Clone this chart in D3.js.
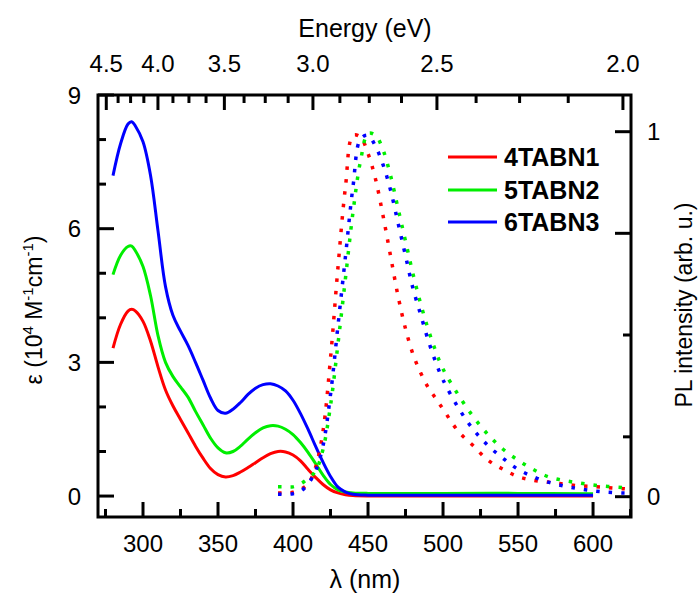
<!DOCTYPE html>
<html>
<head>
<meta charset="utf-8">
<script src="https://cdn.jsdelivr.net/npm/d3@7"></script>
<style>
  body { margin: 0; background: #fff; }
  text { font-family: "Liberation Sans", Arial, sans-serif; fill: #000; }
</style>
</head>
<body>
<svg id="chart" width="699" height="597"></svg>
<script>
// absorption, epsilon in 10^4 M-1 cm-1
var absLambda = [280, 285, 290, 292.5, 295, 300, 305, 310, 315, 320, 325, 330, 335, 340, 345, 350, 355, 360, 365, 370, 375, 380, 385, 390, 395, 400, 405, 410, 415, 420, 425, 430, 435, 440, 450, 470, 500, 550, 600];
var absRed   = [3.32, 3.85, 4.15, 4.19, 4.15, 3.92, 3.48, 2.9, 2.38, 2.02, 1.72, 1.42, 1.12, 0.85, 0.62, 0.48, 0.43, 0.46, 0.54, 0.64, 0.75, 0.86, 0.95, 1.0, 0.99, 0.92, 0.79, 0.6, 0.42, 0.26, 0.14, 0.07, 0.03, 0.01, 0.0, 0.0, 0.0, 0.0, 0.0];
var absGreen = [4.97, 5.4, 5.6, 5.61, 5.5, 5.15, 4.5, 3.6, 3.0, 2.68, 2.45, 2.22, 1.9, 1.6, 1.3, 1.08, 0.97, 1.0, 1.12, 1.28, 1.42, 1.53, 1.58, 1.57, 1.5, 1.38, 1.2, 0.98, 0.73, 0.47, 0.26, 0.14, 0.09, 0.07, 0.06, 0.06, 0.06, 0.06, 0.05];
var absBlue  = [7.19, 7.9, 8.35, 8.4, 8.3, 7.95, 7.2, 5.95, 4.7, 4.05, 3.7, 3.38, 3.0, 2.6, 2.2, 1.92, 1.86, 1.95, 2.1, 2.28, 2.42, 2.5, 2.52, 2.47, 2.36, 2.15, 1.85, 1.5, 1.12, 0.76, 0.44, 0.2, 0.09, 0.04, 0.02, 0.02, 0.02, 0.02, 0.02];

// photoluminescence, normalised
var plLambda = [390, 395, 400, 405, 410, 415, 420, 425, 430, 435, 440, 445, 450, 455, 460, 465, 470, 475, 480, 485, 490, 495, 500, 510, 520, 530, 540, 550, 560, 570, 580, 590, 600, 610, 620, 625];
var plRed   = [0.01, 0.01, 0.012, 0.02, 0.035, 0.08, 0.18, 0.38, 0.63, 0.85, 0.99, 0.985, 0.94, 0.87, 0.77, 0.66, 0.55, 0.46, 0.39, 0.34, 0.3, 0.27, 0.24, 0.18, 0.14, 0.1, 0.075, 0.055, 0.045, 0.04, 0.035, 0.03, 0.028, 0.025, 0.022, 0.02];
var plGreen = [0.027, 0.027, 0.027, 0.035, 0.05, 0.07, 0.13, 0.25, 0.42, 0.6, 0.78, 0.92, 0.995, 0.99, 0.95, 0.88, 0.79, 0.7, 0.61, 0.53, 0.46, 0.4, 0.35, 0.28, 0.22, 0.17, 0.13, 0.1, 0.075, 0.055, 0.045, 0.038, 0.032, 0.028, 0.025, 0.024];
var plBlue  = [0.007, 0.007, 0.008, 0.015, 0.035, 0.07, 0.14, 0.28, 0.47, 0.66, 0.85, 0.98, 0.99, 0.96, 0.91, 0.84, 0.75, 0.66, 0.57, 0.5, 0.43, 0.37, 0.32, 0.245, 0.185, 0.14, 0.105, 0.075, 0.055, 0.04, 0.03, 0.022, 0.016, 0.012, 0.01, 0.01];

var names = ['4TABN1', '5TABN2', '6TABN3'];
var colors = ['#ff0000', '#00ee00', '#0000ff'];

var lambdaMajor = [300, 350, 400, 450, 500, 550, 600];
var lambdaMinor = [275, 325, 375, 425, 475, 525, 575, 625];
var energyMajor = [4.5, 4.0, 3.5, 3.0, 2.5, 2.0];
var energyMinor = [4.375, 4.25, 4.125, 3.875, 3.75, 3.625, 3.375, 3.25, 3.125, 2.875, 2.75, 2.625, 2.375, 2.25, 2.125];
var epsMajor = [0, 3, 6, 9];
var epsMinor = [1, 2, 4, 5, 7, 8];
var plMajor = [0, 1, 0.7216];
var plMinor = [0.443, 0.164];

var svg = d3.select('#chart');
var L = 98, R = 631, T = 95, B = 517;

var x = d3.scaleLinear().domain([270, 625.3]).range([L, R]);
var y = d3.scaleLinear().domain([-0.47, 9]).range([B, T]);
var y2 = d3.scaleLinear().domain([0, 1]).range([496.7, 131.7]);

var line = d3.line().curve(d3.curveCatmullRom.alpha(0.5));

var absSets = [absRed, absGreen, absBlue];
var plSets = [plRed, plGreen, plBlue];

var g = svg.append('g');

absSets.forEach(function(vals, i){
  g.append('path')
    .attr('d', line(absLambda.map(function(l, j){ return [x(l), y(vals[j])]; })))
    .attr('fill', 'none')
    .attr('stroke', colors[i])
    .attr('stroke-width', 3);
});

plSets.forEach(function(vals, i){
  g.append('path')
    .attr('d', line(plLambda.map(function(l, j){ return [x(l), y2(vals[j])]; })))
    .attr('fill', 'none')
    .attr('stroke', colors[i])
    .attr('stroke-width', 3.5)
    .attr('stroke-dasharray', '3.5,9');
});

// frame
svg.append('rect')
  .attr('x', L).attr('y', T)
  .attr('width', R - L).attr('height', B - T)
  .attr('fill', 'none').attr('stroke', '#000').attr('stroke-width', 3);

var ticks = svg.append('g').attr('stroke', '#000').attr('stroke-width', 3);

// bottom
lambdaMajor.forEach(function(v){
  ticks.append('line').attr('x1', x(v)).attr('x2', x(v)).attr('y1', B).attr('y2', B - 15);
});
lambdaMinor.forEach(function(v){
  ticks.append('line').attr('x1', x(v)).attr('x2', x(v)).attr('y1', B).attr('y2', B - 8);
});
// top (energy)
var xe = function(e){ return x(1239.84 / e); };
energyMajor.forEach(function(v){
  ticks.append('line').attr('x1', xe(v)).attr('x2', xe(v)).attr('y1', T).attr('y2', T + 15);
});
energyMinor.forEach(function(v){
  ticks.append('line').attr('x1', xe(v)).attr('x2', xe(v)).attr('y1', T).attr('y2', T + 8);
});
// left
epsMajor.forEach(function(v){
  ticks.append('line').attr('x1', L).attr('x2', L + 16).attr('y1', y(v)).attr('y2', y(v));
});
epsMinor.forEach(function(v){
  ticks.append('line').attr('x1', L).attr('x2', L + 8).attr('y1', y(v)).attr('y2', y(v));
});
// right
plMajor.forEach(function(v){
  ticks.append('line').attr('x1', R).attr('x2', R - 16).attr('y1', y2(v)).attr('y2', y2(v));
});
plMinor.forEach(function(v){
  ticks.append('line').attr('x1', R).attr('x2', R - 8).attr('y1', y2(v)).attr('y2', y2(v));
});

var fs = 24;
lambdaMajor.forEach(function(v){
  svg.append('text').attr('x', x(v)).attr('y', 552).attr('text-anchor', 'middle')
    .style('font-size', fs + 'px').text(v);
});
energyMajor.forEach(function(v){
  svg.append('text').attr('x', xe(v)).attr('y', 72).attr('text-anchor', 'middle')
    .style('font-size', fs + 'px').text(v.toFixed(1));
});
epsMajor.forEach(function(v){
  svg.append('text').attr('x', 81).attr('y', y(v) + 8.5).attr('text-anchor', 'end')
    .style('font-size', fs + 'px').text(v);
});
[0, 1].forEach(function(v){
  svg.append('text').attr('x', 647).attr('y', y2(v) + 8.5)
    .style('font-size', fs + 'px').text(v);
});

// titles
svg.append('text').attr('x', 365).attr('y', 37).attr('text-anchor', 'middle')
  .style('font-size', '25px').text('Energy (eV)');
svg.append('text').attr('x', 365).attr('y', 588).attr('text-anchor', 'middle')
  .style('font-size', '25px').text('λ (nm)');

var lt = svg.append('text').attr('transform', 'translate(42,310) rotate(-90)')
  .attr('text-anchor', 'middle').style('font-size', '23px');
lt.append('tspan').text('ε (10');
lt.append('tspan').attr('dy', -9).style('font-size', '15px').text('4');
lt.append('tspan').attr('dy', 9).text(' M');
lt.append('tspan').attr('dy', -9).style('font-size', '15px').text('-1');
lt.append('tspan').attr('dy', 9).text('cm');
lt.append('tspan').attr('dy', -9).style('font-size', '15px').text('-1');
lt.append('tspan').attr('dy', 9).text(')');

svg.append('text').attr('transform', 'translate(692,305) rotate(-90)')
  .attr('text-anchor', 'middle').style('font-size', '23px').text('PL intensity (arb. u.)');

// legend
var legY = [157, 190, 222];
names.forEach(function(n, i){
  svg.append('line').attr('x1', 448).attr('x2', 497).attr('y1', legY[i]).attr('y2', legY[i])
    .attr('stroke', colors[i]).attr('stroke-width', 3);
  svg.append('text').attr('x', 504).attr('y', legY[i] + 9)
    .style('font-size', '25px').style('font-weight', 'bold').text(n);
});
</script>
</body>
</html>
